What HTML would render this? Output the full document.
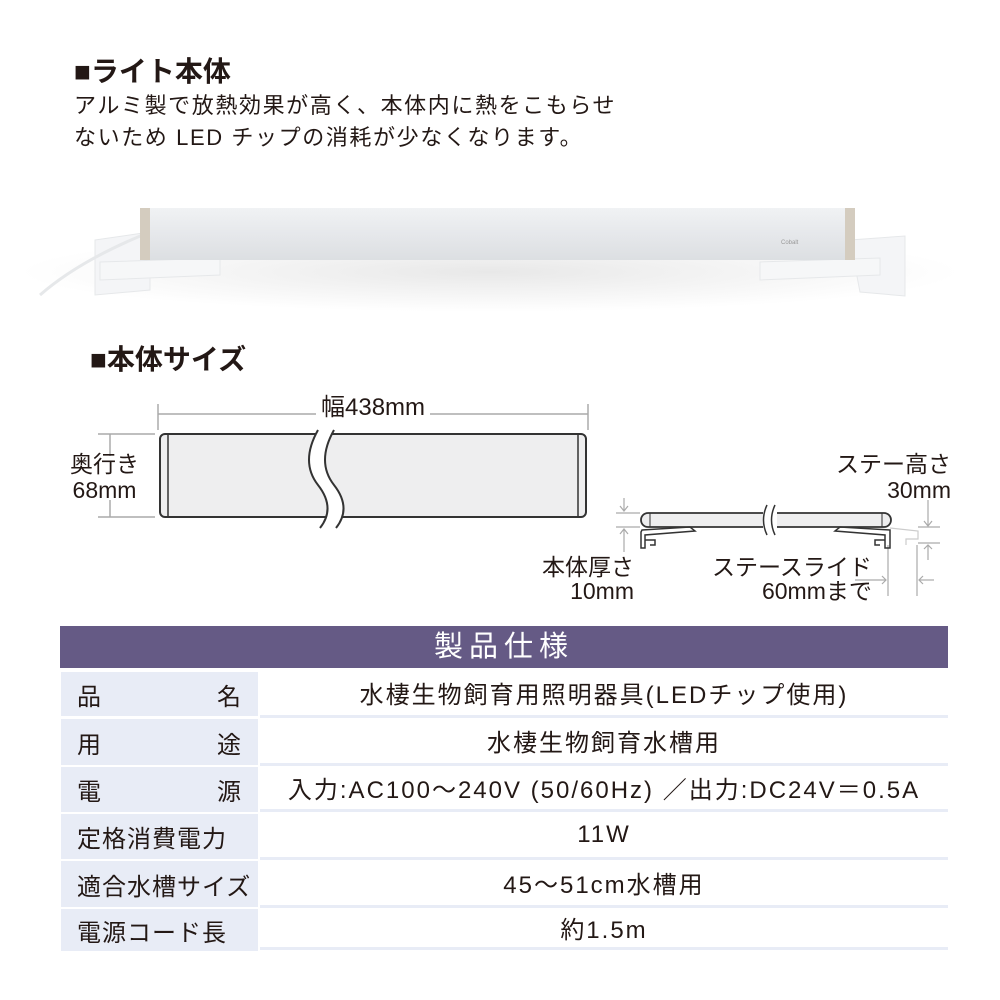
<!DOCTYPE html>
<html><head><meta charset="utf-8"><style>
body{margin:0;width:1000px;height:1000px;background:#fff;position:relative;overflow:hidden;font-family:"Liberation Sans","Noto Sans CJK JP",sans-serif;color:#231815}
.a{position:absolute;white-space:nowrap}
.h{font-weight:bold;font-size:28px}
.p{font-size:22px;letter-spacing:1.6px}
.t{font-size:23px}
.l{position:absolute;left:61px;width:197px;background:#e8ecf6;font-size:24px;letter-spacing:1px;white-space:nowrap;display:flex;align-items:center;box-sizing:border-box;padding:0 16px}
.r{position:absolute;left:260px;width:688px;font-size:24px;letter-spacing:2px;white-space:nowrap;display:flex;align-items:center;justify-content:center;border-bottom:3px solid #e8ecf6;box-sizing:border-box}
</style></head><body>
<div class="a h" style="left:74px;top:50px">■ライト本体</div>
<div class="a p" style="left:74px;top:88px">アルミ製で放熱効果が高く、本体内に熱をこもらせ</div>
<div class="a p" style="left:74px;top:120px">ないため LED チップの消耗が少なくなります。</div>
<div class="a h" style="left:90px;top:338px">■本体サイズ</div>

<svg class="a" style="left:0;top:0" width="1000" height="620">
<defs>
<linearGradient id="g" x1="0" y1="0" x2="0" y2="1"><stop offset="0" stop-color="#f0f2f4"/><stop offset="0.5" stop-color="#e6e8eb"/><stop offset="1" stop-color="#dcdfe2"/></linearGradient>
<radialGradient id="sh" cx="0.5" cy="0.5" r="0.5"><stop offset="0" stop-color="#e8e8e8"/><stop offset="1" stop-color="#fff"/></radialGradient>
</defs>
<ellipse cx="490" cy="272" rx="470" ry="40" fill="url(#sh)"/>
<path d="M95 240 L150 232 L150 290 L95 295Z" fill="#f4f5f7" stroke="#e6e8ea"/>
<path d="M850 240 L905 236 L905 296 L860 292Z" fill="#f4f5f7" stroke="#e6e8ea"/>
<path d="M100 262 L220 258 L220 275 L100 280Z" fill="#f6f7f8" stroke="#e6e8ea"/>
<path d="M760 262 L880 258 L880 275 L760 280Z" fill="#f6f7f8" stroke="#e6e8ea"/>
<path d="M150 232 Q80 260 40 295" fill="none" stroke="#e6e8ea" stroke-width="3"/>
<rect x="140" y="208" width="715" height="52" fill="url(#g)"/>
<rect x="140" y="208" width="10" height="52" fill="#d4ccbf"/>
<rect x="845" y="208" width="10" height="52" fill="#d4ccbf"/>
<text x="781" y="244" font-size="6" fill="#999">Cobalt</text>
<g stroke="#aaa" stroke-width="1.5" fill="none">
<line x1="158" y1="404" x2="158" y2="430"/><line x1="588" y1="404" x2="588" y2="430"/>
<line x1="158" y1="414" x2="588" y2="414"/>
<line x1="98" y1="434" x2="155" y2="434"/><line x1="98" y1="517" x2="155" y2="517"/>
<line x1="110" y1="434" x2="110" y2="456"/><line x1="110" y1="500" x2="110" y2="517"/>
</g>
<rect x="160" y="434" width="426" height="83" rx="5" fill="#eeeeef" stroke="#333" stroke-width="2"/>
<line x1="168" y1="434" x2="168" y2="517" stroke="#333" stroke-width="1.5"/>
<line x1="578" y1="434" x2="578" y2="517" stroke="#333" stroke-width="1.5"/>
<path d="M318 430 Q300 462 318 485 Q336 508 320 528 L336 528 Q352 508 334 485 Q316 462 334 430Z" fill="#fff" stroke="none"/>
<path d="M318 430 Q300 462 318 485 Q336 508 320 528 M334 430 Q316 462 334 485 Q352 508 336 528" fill="none" stroke="#333" stroke-width="2"/>
<g stroke="#aaa" stroke-width="1.2" fill="none">
<line x1="616" y1="513" x2="640" y2="513"/><line x1="616" y1="527" x2="640" y2="527"/>
<line x1="624" y1="498" x2="624" y2="511"/><line x1="624" y1="529" x2="624" y2="552"/>
<path d="M620 506 L624 511 L628 506 M620 534 L624 529 L628 534"/>
<line x1="888" y1="545" x2="888" y2="596"/><line x1="917" y1="545" x2="917" y2="596"/>
<line x1="855" y1="580" x2="886" y2="580"/><path d="M882 576 L886 580 L882 584"/>
<line x1="919" y1="580" x2="934" y2="580"/><path d="M923 576 L919 580 L923 584"/>
<line x1="928" y1="500" x2="928" y2="525"/><path d="M924 521 L928 526 L932 521"/>
<line x1="918" y1="527" x2="940" y2="527"/><line x1="918" y1="543" x2="940" y2="543"/>
<line x1="928" y1="545" x2="928" y2="560"/><path d="M924 549 L928 545 L932 549"/>
<path d="M890 528 L918 531 L918 539 L906 539 L906 545" stroke="#ccc"/>
</g>
<rect x="641" y="513" width="250" height="14" rx="7" fill="#eeeeef" stroke="#333" stroke-width="1.8"/>
<line x1="650" y1="513" x2="650" y2="527" stroke="#333"/><line x1="882" y1="513" x2="882" y2="527" stroke="#333"/>
<g fill="none" stroke="#333" stroke-width="1.5">
<path d="M642 530 L690 527 L695 531 L645 535 L645 548 L641 548 L641 532Z"/>
<path d="M645 540 L655 540 L655 545 L650 545"/>
<path d="M890 530 L840 527 L835 531 L885 535 L885 548 L890 548 L890 532Z"/>
<path d="M885 540 L875 540 L875 545 L880 545"/>
</g>
<rect x="763" y="505" width="14" height="30" fill="#fff"/>
<path d="M767 505 Q760 520 767 535 M775 505 Q768 520 775 535" fill="none" stroke="#333" stroke-width="1.5"/>
</svg>
<div class="a t" style="left:316px;top:387px;background:#fff;padding:0 5px;font-size:24px">幅438mm</div>
<div class="a t" style="left:70px;top:451px;text-align:center;line-height:26px">奥行き<br>68mm</div>
<div class="a t" style="left:836px;top:451px;text-align:right;line-height:26px">ステー高さ<br><span style="padding-left:34px">30mm</span></div>
<div class="a t" style="left:542px;top:555px;text-align:right;line-height:24px">本体厚さ<br><span style="padding-left:18px">10mm</span></div>
<div class="a t" style="left:712px;top:555px;text-align:right;line-height:24px">ステースライド<br><span style="padding-left:28px">60mmまで</span></div>

<div class="a" style="left:60px;top:626px;width:888px;height:42px;background:#655a85;color:#fff;font-size:29px;text-align:center;line-height:42px;letter-spacing:6px">製品仕様</div>
<div class="l" style="top:672px;height:44px;justify-content:space-between"><span>品</span><span>名</span></div>
<div class="r" style="top:670px;height:48px">水棲生物飼育用照明器具(LEDチップ使用)</div>
<div class="l" style="top:719px;height:46px;justify-content:space-between"><span>用</span><span>途</span></div>
<div class="r" style="top:718px;height:48px">水棲生物飼育水槽用</div>
<div class="l" style="top:767px;height:45px;justify-content:space-between"><span>電</span><span>源</span></div>
<div class="r" style="top:766px;height:46px">入力:AC100〜240V (50/60Hz) ／出力:DC24V＝0.5A</div>
<div class="l" style="top:814px;height:45px">定格消費電力</div>
<div class="r" style="top:812px;height:48px">11W</div>
<div class="l" style="top:861px;height:46px">適合水槽サイズ</div>
<div class="r" style="top:860px;height:48px">45〜51cm水槽用</div>
<div class="l" style="top:909px;height:42px">電源コード長</div>
<div class="r" style="top:908px;height:42px">約1.5m</div>
</body></html>
